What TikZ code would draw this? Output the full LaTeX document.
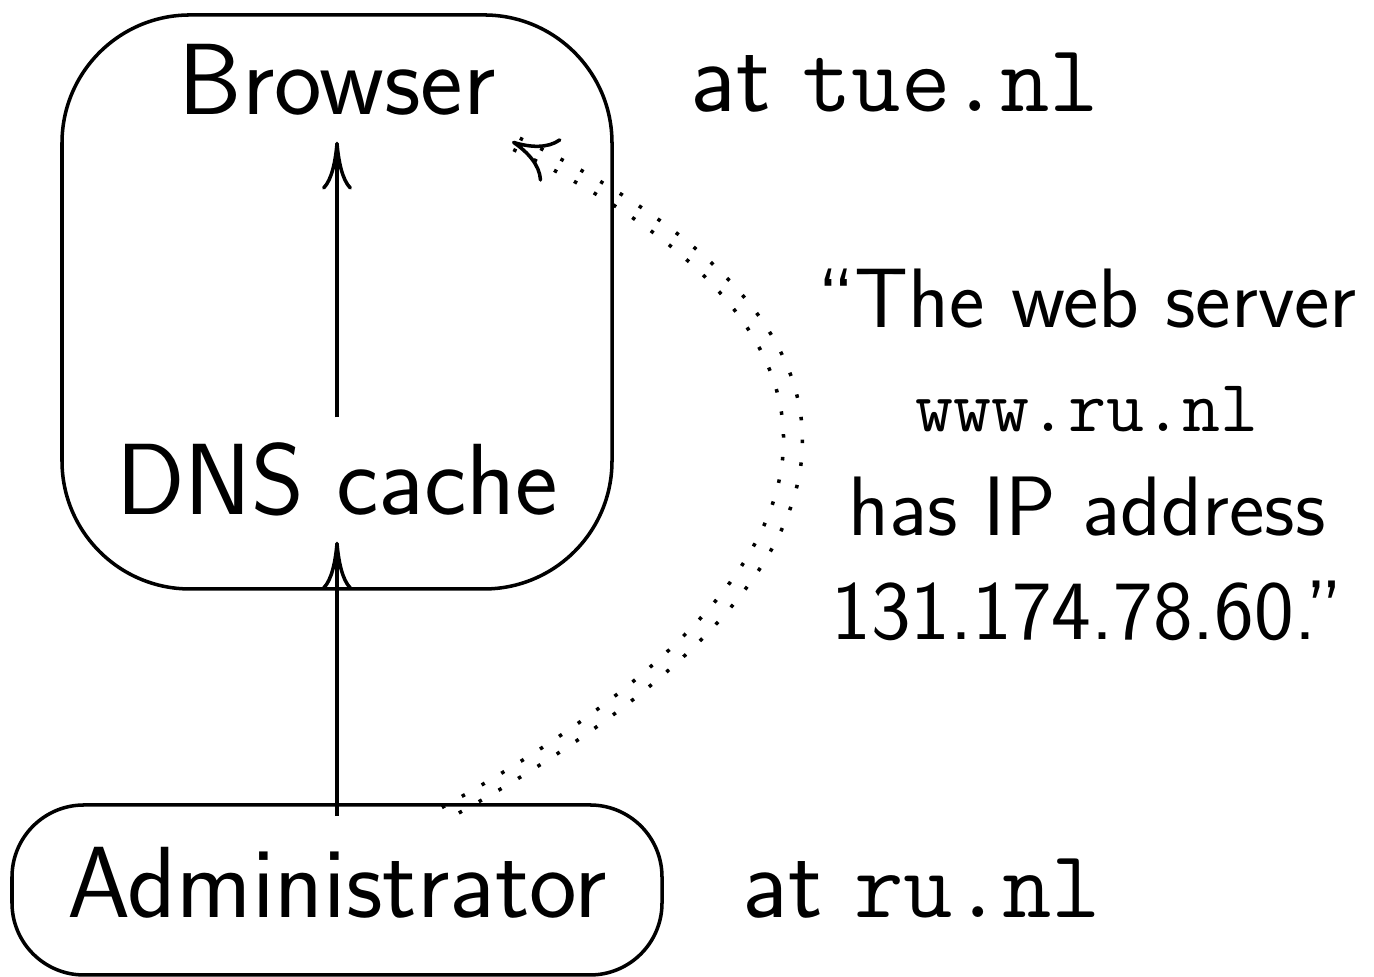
\documentclass[tikz,border=0pt]{standalone}
\usepackage{tikz}
\usetikzlibrary{arrows.meta,positioning}
\def\Host#1{{\fontsize{27.3}{32}\selectfont\ttfamily #1}}

\begin{document}
\begin{tikzpicture}[% styles for the whole picture
      every node/.style={
        font=\fontsize{28.8}{34}\selectfont\sffamily,
        inner sep=0pt     % text placed by its baseline
      },
      lbl/.style={inner sep=0.26cm,text height=0.71cm,text depth=0pt},
      box/.style={draw,line width=1pt},
      solidarrow/.style={line width=1pt,
        -{Computer Modern Rightarrow[length=4.8mm,width=3mm]}},
      dotline/.style={line width=1pt,dash pattern=on 1pt off 5.5pt},
      dothead/.style={line width=1pt,dash pattern=on 0pt off 100pt,
        -{Computer Modern Rightarrow[length=4.4mm,width=4.8mm]}}
    ]
    \useasboundingbox (0,0) rectangle (13.74,9.77);
    \node[box,rounded corners=1.28cm,minimum width=5.5cm,minimum height=5.74cm](frame) at (3.37,6.75) {};
    \node[lbl,anchor=base](browser) at (3.37,8.62) {Browser};
    \node[lbl,anchor=base](dns) at (3.37,4.62) {DNS cache};
    \node[box,rounded corners=0.72cm,minimum width=6.5cm,minimum height=1.7cm,
      text height=0.86cm,text depth=0.3cm](admin) at (3.37,0.87) {Administrator};
    \node[anchor=base west](tue) at (6.90,8.65) {at \Host{tue.nl}};
    \node[base right=0.78cm of admin.base east](ru) {at \Host{ru.nl}};
    \node[align=center,anchor=base,font=\fontsize{24}{29.6}\selectfont\sffamily](claim) at (10.87,3.37) {“The web server\\
      {\fontsize{21}{29.6}\selectfont\ttfamily www.ru.nl}\\
      has IP address\\
      131.174.78.60.”};
    % dotted double line, two strands
    \coordinate (from) at ([xshift=1.08cm,yshift=-1mm]admin.north);
    \coordinate (to) at ([xshift=-1mm]browser.south east);
    \draw[dotline] ([shift={(-0.031,0.057)}]from) .. controls +(4.45,2.45) and +(3.75,-1.8) .. ([shift={(-0.028,-0.059)}]to);
    \draw[dotline,dash phase=3pt] ([shift={(0.031,-0.057)}]from) .. controls +(4.65,2.55) and +(3.9,-1.88) .. ([shift={(0.028,0.059)}]to);
    \draw[dothead] (from) .. controls +(4.55,2.5) and +(3.83,-1.84) .. (to);
    \draw[solidarrow] (dns.north) -- (browser.south);
    \draw[solidarrow] ([yshift=-1.3mm]admin.north) -- (dns.south);
  \end{tikzpicture}
\end{document}
